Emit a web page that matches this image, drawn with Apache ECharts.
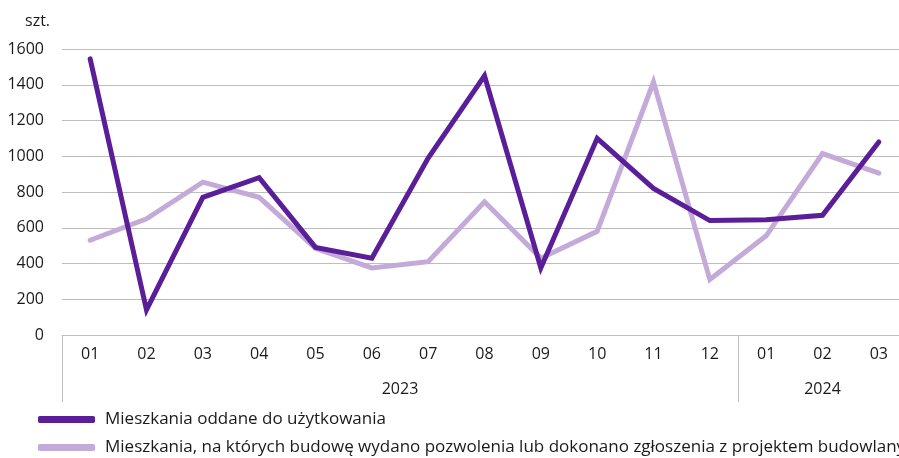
<!DOCTYPE html>
<html><head><meta charset="utf-8">
<script src="https://cdn.jsdelivr.net/npm/echarts@6/dist/echarts.min.js"></script>
<style>html,body{margin:0;padding:0;background:#fff}#c{width:899px;height:458px}</style>
</head><body><div id="c"></div>
<script>
const months = ['01','02','03','04','05','06','07','08','09','10','11','12','01','02','03'];
const years = ['2023','2024'];
const yearMonthCounts = [12, 3];
const oddane = [1545,140,770,880,490,430,990,1450,375,1100,820,640,645,670,1080];
const pozwolenia = [530,650,855,770,485,375,410,745,430,580,1415,310,555,1015,905];
const yTicks = [0,200,400,600,800,1000,1200,1400,1600];
const seriesNames = ['Mieszkania oddane do użytkowania','Mieszkania, na których budowę wydano pozwolenia lub dokonano zgłoszenia z projektem budowlanym'];
const unitLabel = 'szt.';

const bounds = [0]; yearMonthCounts.forEach(c => bounds.push(bounds[bounds.length-1] + c));
const centres = yearMonthCounts.map((c,i) => bounds[i] + c/2);

const FONT = 'Open Sans';
const TXT = '#1a1a1a';
const legendCommon = {orient:'vertical',left:38,itemWidth:57,itemHeight:7,icon:'roundRect',padding:0,
  textStyle:{fontFamily:FONT,fontSize:17,color:TXT,padding:[0,0,0,5]}};
const chart = echarts.init(document.getElementById('c'), null, {renderer:'canvas'});
chart.setOption({
  animation:false,
  textStyle:{fontFamily:FONT},
  title:{text:unitLabel,left:20,top:8,textStyle:{fontFamily:FONT,fontSize:16,fontWeight:'normal',color:TXT}},
  grid:{left:62,width:845,top:49,height:286,containLabel:false,outerBoundsMode:'none'},
  legend:[
    Object.assign({top:411,data:[seriesNames[0]]},legendCommon),
    Object.assign({top:439,data:[seriesNames[1]]},legendCommon)
  ],
  xAxis:[
    {type:'category',data:months,boundaryGap:true,
     axisLine:{show:true,lineStyle:{color:'#bdbdbd',width:1}},
     axisTick:{show:false},
     axisLabel:{fontFamily:FONT,fontSize:16,color:TXT,margin:11,interval:0},
     splitLine:{show:false}},
    {type:'value',min:0,max:bounds[bounds.length-1],position:'bottom',
     axisLine:{show:false},splitLine:{show:false},
     axisTick:{show:true,customValues:bounds,length:67,lineStyle:{color:'#bdbdbd',width:1}},
     axisLabel:{show:true,customValues:centres,margin:46,fontFamily:FONT,fontSize:16,color:TXT,
       formatter:function(v){const i=centres.indexOf(v);return i>=0?years[i]:'';}}}
  ],
  yAxis:{type:'value',min:yTicks[0],max:yTicks[yTicks.length-1],interval:200,
    axisLine:{show:false},axisTick:{show:false},
    axisLabel:{fontFamily:FONT,fontSize:16,color:TXT,margin:18,formatter:function(v){return String(v);}},
    splitLine:{lineStyle:{color:'#bdbdbd',width:1}}},
  series:[
    {name:seriesNames[0],type:'line',data:oddane,showSymbol:false,symbol:'none',
     lineStyle:{color:'#5a1f98',width:5,cap:'round',join:'miter'},itemStyle:{color:'#5a1f98'},z:3},
    {name:seriesNames[1],type:'line',data:pozwolenia,showSymbol:false,symbol:'none',
     lineStyle:{color:'#c3aad9',width:5,cap:'round',join:'miter'},itemStyle:{color:'#c3aad9'},z:2}
  ]
});
</script></body></html>
